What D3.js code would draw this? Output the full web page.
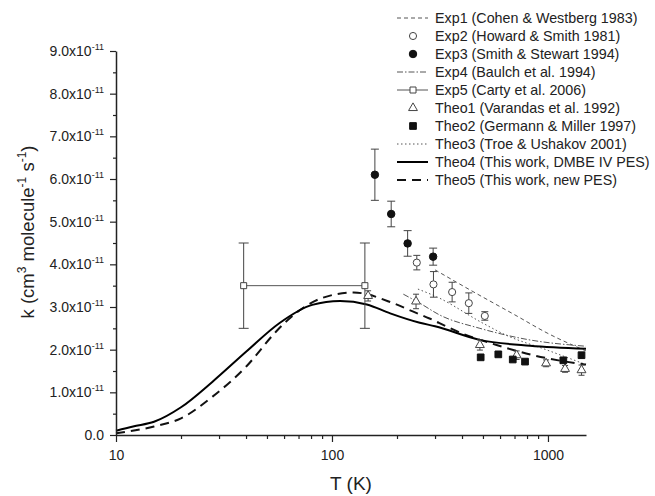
<!DOCTYPE html>
<html>
<head>
<meta charset="utf-8">
<script src="https://cdn.jsdelivr.net/npm/d3@7/dist/d3.min.js"></script>
<style>
    body { margin: 0; background: #fff; }
    svg { font-family: "Liberation Sans", Arial, sans-serif; }
</style>
</head>
<body>
<svg id="chart" width="655" height="496"></svg>
<script>
// k values are in units of 1e-11 cm3 molecule-1 s-1
let exp1T = [300, 450, 700, 1000, 1500];
let exp1K = [3.87, 3.36, 2.82, 2.38, 1.97];

let exp2T = [247, 295, 360, 430, 510];
let exp2K = [4.04, 3.53, 3.35, 3.09, 2.79];
let exp2Err = [0.17, 0.3, 0.23, 0.24, 0.1];

let exp3T = [158, 188, 224, 294];
let exp3K = [6.1, 5.18, 4.49, 4.18];
let exp3Err = [0.6, 0.3, 0.3, 0.2];

let exp4T = [214, 255, 316, 484, 800, 1500];
let exp4K = [3.3, 3.09, 2.81, 2.5, 2.24, 2.08];

let exp5T = [39, 142];
let exp5K = [3.5, 3.5];
let exp5Err = [1.0, 1.0];

let theo1T = [147, 245, 484, 716, 980, 1200, 1430];
let theo1K = [3.26, 3.13, 2.11, 1.87, 1.68, 1.55, 1.52];
let theo1Err = [0.12, 0.17, 0.12, 0.1, 0.08, 0.08, 0.12];

let theo2T = [488, 589, 687, 783, 1178, 1430];
let theo2K = [1.82, 1.89, 1.77, 1.72, 1.75, 1.87];

let theo3T = [250, 305, 500, 640, 980, 1500];
let theo3K = [3.42, 3.24, 2.62, 2.34, 2.0, 1.65];

let theo4T = [10, 12, 15, 20, 28, 40, 57, 81, 109, 145, 186, 255, 300, 484, 826, 1500];
let theo4K = [0.1, 0.2, 0.31, 0.65, 1.25, 1.95, 2.62, 3.05, 3.14, 3.06, 2.85, 2.63, 2.55, 2.23, 2.09, 2.02];

let theo5T = [10, 15, 20, 28, 40, 55, 61, 91, 126, 192, 238, 283, 340, 405, 578, 855, 1358, 1500];
let theo5K = [0.04, 0.2, 0.39, 0.9, 1.6, 2.42, 2.65, 3.22, 3.34, 3.09, 2.89, 2.73, 2.54, 2.37, 2.11, 1.87, 1.68, 1.65];

let xMajor = [10, 100, 1000];
let xMinor = [20, 30, 40, 50, 60, 70, 80, 90, 200, 300, 400, 500, 600, 700, 800, 900];
let yMajor = [0, 1, 2, 3, 4, 5, 6, 7, 8, 9];
let yMinor = [0.5, 1.5, 2.5, 3.5, 4.5, 5.5, 6.5, 7.5, 8.5];

let legendLabels = [
    "Exp1 (Cohen & Westberg 1983)",
    "Exp2 (Howard & Smith 1981)",
    "Exp3 (Smith & Stewart 1994)",
    "Exp4 (Baulch et al. 1994)",
    "Exp5 (Carty et al. 2006)",
    "Theo1 (Varandas et al. 1992)",
    "Theo2 (Germann & Miller 1997)",
    "Theo3 (Troe & Ushakov 2001)",
    "Theo4 (This work, DMBE IV PES)",
    "Theo5 (This work, new PES)"
];

let svg = d3.select("#chart");
let x = d3.scaleLog().domain([10, 1500]).range([116, 586]);
let y = d3.scaleLinear().domain([0, 9]).range([435, 51]);

// line styles
let lineStyles = {
    exp1: { stroke: "#555", width: 1, dash: "4,3" },
    exp4: { stroke: "#555", width: 1, dash: "6,2,1.5,2" },
    theo3: { stroke: "#555", width: 1, dash: "1.5,2.5" },
    theo4: { stroke: "#000", width: 2, dash: null },
    theo5: { stroke: "#111", width: 2, dash: "9,6" }
};

let lnMkr = d3.line()
    .curve(d3.curveMonotoneX)
    .x((d) => x(d[0]))
    .y((d) => y(d[1]));

function drawCurve(T, K, st) {
    svg.append("path")
        .attr("fill", "none")
        .attr("d", lnMkr(d3.zip(T, K)))
        .attr("stroke", st.stroke)
        .attr("stroke-width", st.width)
        .attr("stroke-dasharray", st.dash);
}

drawCurve(exp1T, exp1K, lineStyles.exp1);
drawCurve(exp4T, exp4K, lineStyles.exp4);
drawCurve(theo3T, theo3K, lineStyles.theo3);
drawCurve(theo5T, theo5K, lineStyles.theo5);
drawCurve(theo4T, theo4K, lineStyles.theo4);

// Exp5 connecting line
svg.append("path")
    .attr("fill", "none")
    .attr("d", d3.line().x((d) => x(d[0])).y((d) => y(d[1]))(d3.zip(exp5T, exp5K)))
    .attr("stroke", "#555")
    .attr("stroke-width", 1);

function errorBars(T, K, E, cap) {
    let g = svg.append("g").attr("stroke", "#444").attr("stroke-width", 1);
    d3.zip(T, K, E).forEach(function (d) {
        let cx = x(d[0]), y1 = y(d[1] + d[2]), y2 = y(d[1] - d[2]);
        g.append("line").attr("x1", cx).attr("x2", cx).attr("y1", y1).attr("y2", y2);
        g.append("line").attr("x1", cx - cap / 2).attr("x2", cx + cap / 2).attr("y1", y1).attr("y2", y1);
        g.append("line").attr("x1", cx - cap / 2).attr("x2", cx + cap / 2).attr("y1", y2).attr("y2", y2);
    });
}

errorBars(exp5T, exp5K, exp5Err, 10);
errorBars(exp3T, exp3K, exp3Err, 8);
errorBars(exp2T, exp2K, exp2Err, 7);
errorBars(theo1T, theo1K, theo1Err, 6);

// marker shapes
let markers = {
    openCircle: { type: d3.symbolCircle, size: 40, fill: "#fff", stroke: "#444" },
    filledCircle: { type: d3.symbolCircle, size: 44, fill: "#111", stroke: "#111" },
    openSquare: { type: d3.symbolSquare, size: 36, fill: "#fff", stroke: "#444" },
    openTriangle: { type: d3.symbolTriangle, size: 34, fill: "#fff", stroke: "#444" },
    filledSquare: { type: d3.symbolSquare, size: 45, fill: "#111", stroke: "#111" }
};

function drawPoints(T, K, m) {
    svg.append("g")
        .selectAll("path")
        .data(d3.zip(T, K))
        .enter()
        .append("path")
        .attr("transform", (d) => "translate(" + x(d[0]) + "," + y(d[1]) + ")")
        .attr("d", d3.symbol().type(m.type).size(m.size))
        .attr("fill", m.fill)
        .attr("stroke", m.stroke)
        .attr("stroke-width", 1);
}

drawPoints(exp5T, exp5K, markers.openSquare);
drawPoints(exp2T, exp2K, markers.openCircle);
drawPoints(exp3T, exp3K, markers.filledCircle);
drawPoints(theo1T, theo1K, markers.openTriangle);
drawPoints(theo2T, theo2K, markers.filledSquare);

// axes
let xAxisG = svg.append("g")
    .attr("transform", "translate(0," + y(0) + ")")
    .call(d3.axisBottom(x).tickValues(xMajor).tickFormat(d3.format("d")).tickSize(7).tickSizeOuter(0).tickPadding(8));
svg.append("g")
    .attr("transform", "translate(0," + y(0) + ")")
    .call(d3.axisBottom(x).tickValues(xMinor).tickFormat("").tickSize(4).tickSizeOuter(0))
    .select(".domain").remove();

let yAxisG = svg.append("g")
    .attr("transform", "translate(" + x(10) + ",0)")
    .call(d3.axisLeft(y).tickValues(yMajor).tickSize(6).tickSizeOuter(0).tickPadding(6));
svg.append("g")
    .attr("transform", "translate(" + x(10) + ",0)")
    .call(d3.axisLeft(y).tickValues(yMinor).tickFormat("").tickSize(3).tickSizeOuter(0))
    .select(".domain").remove();

yAxisG.selectAll(".tick text").each(function (d) {
    let t = d3.select(this);
    t.text(null);
    if (d === 0) {
        t.text("0.0");
    } else {
        t.append("tspan").text(d.toFixed(1) + "x10");
        t.append("tspan").attr("font-size", 9).attr("dy", -6).text("-11");
    }
});

svg.selectAll(".domain").attr("stroke", "#222").attr("stroke-width", 1.5);
svg.selectAll(".tick line").attr("stroke", "#222").attr("stroke-width", 1.2);
svg.selectAll(".tick text")
    .attr("fill", "#222")
    .attr("font-size", 14)
    .attr("font-family", "Liberation Sans, Arial, sans-serif");

// axis titles
svg.append("text")
    .attr("x", 351)
    .attr("y", 490)
    .attr("text-anchor", "middle")
    .attr("font-size", 19)
    .attr("fill", "#222")
    .text("T (K)");

let yTitle = svg.append("text")
    .attr("transform", "translate(34,232) rotate(-90)")
    .attr("text-anchor", "middle")
    .attr("font-size", 18.5)
    .attr("fill", "#222");
yTitle.append("tspan").text("k (cm");
yTitle.append("tspan").attr("font-size", 12).attr("dy", -8).text("3");
yTitle.append("tspan").attr("dy", 8).text(" molecule");
yTitle.append("tspan").attr("font-size", 12).attr("dy", -8).text("-1");
yTitle.append("tspan").attr("dy", 8).text(" s");
yTitle.append("tspan").attr("font-size", 12).attr("dy", -8).text("-1");
yTitle.append("tspan").attr("dy", 8).text(")");

// legend
let legendKeys = [
    { line: lineStyles.exp1 },
    { marker: markers.openCircle },
    { marker: markers.filledCircle },
    { line: lineStyles.exp4 },
    { line: { stroke: "#555", width: 1, dash: null }, marker: markers.openSquare },
    { marker: markers.openTriangle },
    { marker: markers.filledSquare },
    { line: lineStyles.theo3 },
    { line: lineStyles.theo4 },
    { line: lineStyles.theo5 }
];

let rowY = d3.scalePoint().domain(d3.range(legendLabels.length)).range([18, 180]);

legendLabels.forEach(function (label, i) {
    let row = svg.append("g").attr("transform", "translate(397," + rowY(i) + ")");
    let key = legendKeys[i];
    if (key.line) {
        row.append("line")
            .attr("x1", 0).attr("x2", 31)
            .attr("y1", 0).attr("y2", 0)
            .attr("stroke", key.line.stroke)
            .attr("stroke-width", key.line.width)
            .attr("stroke-dasharray", key.line.dash);
    }
    if (key.marker) {
        row.append("path")
            .attr("transform", "translate(16,0)")
            .attr("d", d3.symbol().type(key.marker.type).size(key.marker.size))
            .attr("fill", key.marker.fill)
            .attr("stroke", key.marker.stroke);
    }
    row.append("text")
        .attr("x", 38)
        .attr("y", 5)
        .attr("font-size", 14.3)
        .attr("fill", "#222")
        .text(label);
});
</script>
</body>
</html>
